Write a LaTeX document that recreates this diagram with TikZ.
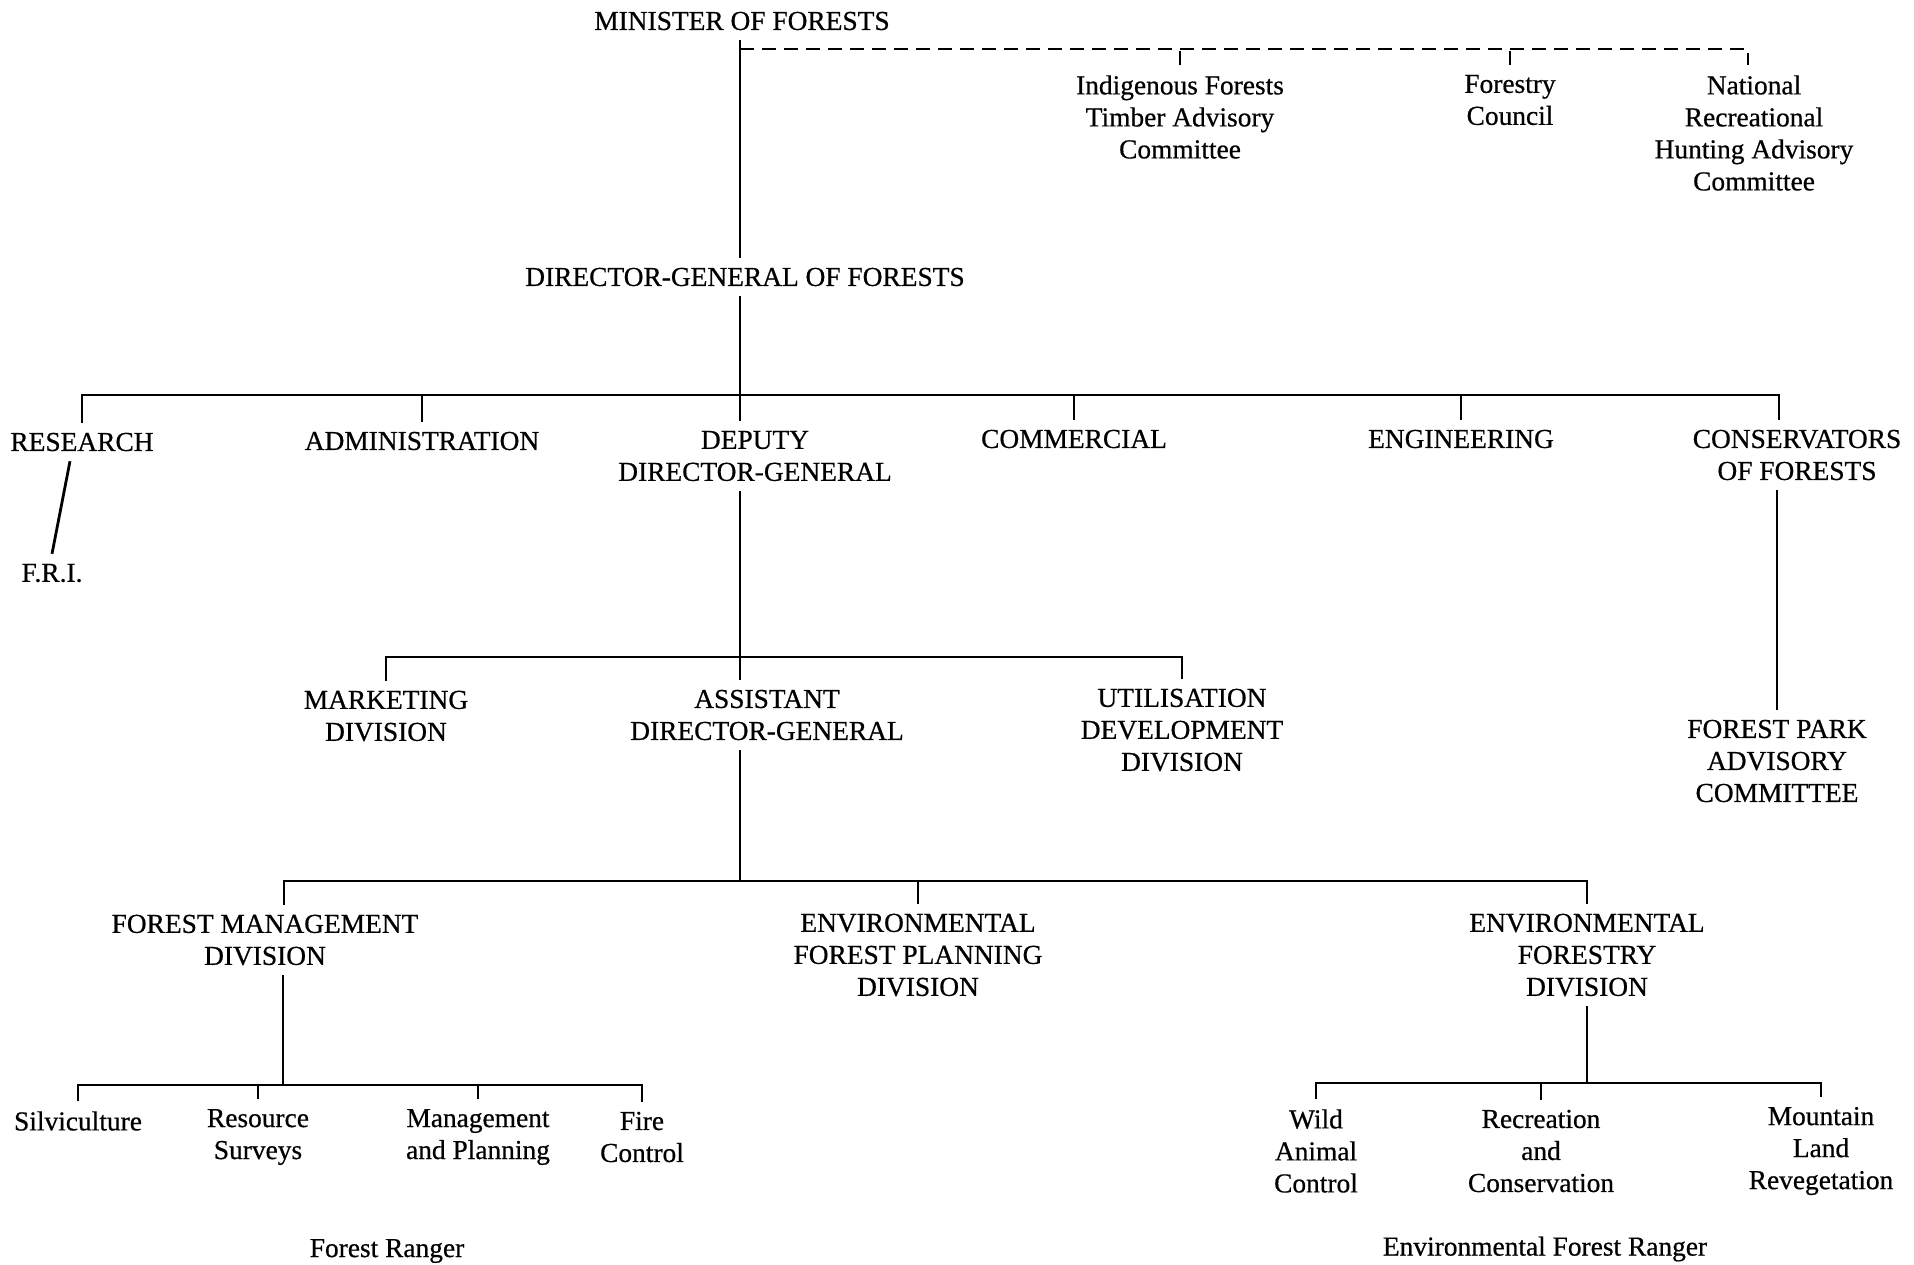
\documentclass[tikz,border=0pt]{standalone}
\usepackage{fontspec}
\setmainfont{Liberation Serif}
\newfontfamily\orgface{Liberation Serif}[FakeBold=0.6]
\usepackage{tikz}
\newcommand{\orgfont}{\orgface\fontsize{13.7pt}{16pt}\selectfont}
\tikzset{
	unit/.style={align=center, inner sep=1pt, outer sep=4pt, font=\orgfont},
	link/.style={line width=1.4pt},
	advice/.style={line width=1.4pt, dash pattern=on 7pt off 4pt}
}
\begin{document}
\begin{tikzpicture}[x=0.5pt, y=-0.5pt]
				\useasboundingbox (0,0) rectangle (1914,1264);
				% top
				\node[unit] (min) at(742,21){MINISTER OF FORESTS};
				\node[unit] (ifta) at(1180,117){Indigenous Forests\\Timber Advisory\\Committee};
				\node[unit] (fc) at(1510,100){Forestry\\Council};
				\node[unit] (nrh) at(1754,133){National\\Recreational\\Hunting Advisory\\Committee};
				\node[unit] (dg) at(745,277){DIRECTOR-GENERAL OF FORESTS};
				% first level
				\node[unit] (research) at(82,442){RESEARCH};
				\node[unit] (admin) at(422,441){ADMINISTRATION};
				\node[unit] (ddg) at(755,456){DEPUTY\\DIRECTOR-GENERAL};
				\node[unit] (comm) at(1074,439){COMMERCIAL};
				\node[unit] (eng) at(1461,439){ENGINEERING};
				\node[unit] (cons) at(1797,455){CONSERVATORS\\OF FORESTS};
				\node[unit] (fri) at(52,573){F.R.I.};
				\node[unit] (fpac) at(1777,761){FOREST PARK\\ADVISORY\\COMMITTEE};
				% second level
				\node[unit] (mkt) at(386,716){MARKETING\\DIVISION};
				\node[unit] (adg) at(767,715){ASSISTANT\\DIRECTOR-GENERAL};
				\node[unit] (udd) at(1182,730){UTILISATION\\DEVELOPMENT\\DIVISION};
				% divisions
				\node[unit] (fmd) at(265,940){FOREST MANAGEMENT\\DIVISION};
				\node[unit] (efp) at(918,955){ENVIRONMENTAL\\FOREST PLANNING\\DIVISION};
				\node[unit] (efd) at(1587,955){ENVIRONMENTAL\\FORESTRY\\DIVISION};
				% sections
				\node[unit] (silv) at(78,1121){Silviculture};
				\node[unit] (res) at(258,1137){Resource\\Surveys};
				\node[unit] (mgmt) at(478,1137){Management\\and Planning};
				\node[unit] (fire) at(642,1137){Fire\\Control};
				\node[unit] (wild) at(1316,1151){Wild\\Animal\\Control};
				\node[unit] (rec) at(1541,1151){Recreation\\and\\Conservation};
				\node[unit] (mtn) at(1821,1151){Mountain\\Land\\Revegetation};
				\node[unit] (fr) at(387,1251){Forest Ranger};
				\node[unit] (efr) at(1545,1249){Environmental Forest Ranger};
				% junctions
				\coordinate (d0) at(740,49);
				\coordinate (b1) at(740,395);
				\coordinate (b2) at(740,657);
				\coordinate (b3) at(740,881);
				\coordinate (b4) at(283,1085);
				\coordinate (b5) at(1587,1083);
				% connectors
				\draw[link] (min.south -| b1) -- (dg.north -| b1);
				\draw[link] (dg.south -| b1) -- (b1);
				\draw[advice] (d0) -| ([xshift=-3pt]nrh.north);
				\draw[advice] (ifta.north) -- (ifta.north |- d0);
				\draw[advice] (fc.north) -- (fc.north |- d0);
				\draw[link] (research.north) |- ([xshift=-9pt]cons.north |- b1) -- ([xshift=-9pt]cons.north);
				\foreach \n in {admin,comm,eng}
					\draw[link] (\n.north) -- (\n.north |- b1);
				\draw[link] (b1) -- (ddg.north -| b1);
				\draw[link] ([xshift=-6pt]research.south) -- (fri.north);
				\draw[link] ([xshift=-10pt]cons.south) -- (fpac.north);
				\draw[link] (ddg.south -| b2) -- (b2);
				\draw[link] (mkt.north) |- (udd.north |- b2) -- (udd.north);
				\draw[link] (b2) -- (adg.north -| b2);
				\draw[link] (adg.south -| b3) -- (b3);
				\draw[link] ([xshift=9.5pt]fmd.north) |- (efd.north |- b3) -- (efd.north);
				\draw[link] (efp.north) -- (efp.north |- b3);
				\draw[link] ([xshift=9pt]fmd.south) -- (b4);
				\draw[link] (silv.north) |- (fire.north |- b4) -- (fire.north);
				\foreach \n in {res,mgmt}
					\draw[link] (\n.north) -- (\n.north |- b4);
				\draw[link] (efd.south) -- (b5);
				\draw[link] (wild.north) |- (mtn.north |- b5) -- (mtn.north);
				\draw[link] (rec.north) -- (rec.north |- b5);
			\end{tikzpicture}
\end{document}
